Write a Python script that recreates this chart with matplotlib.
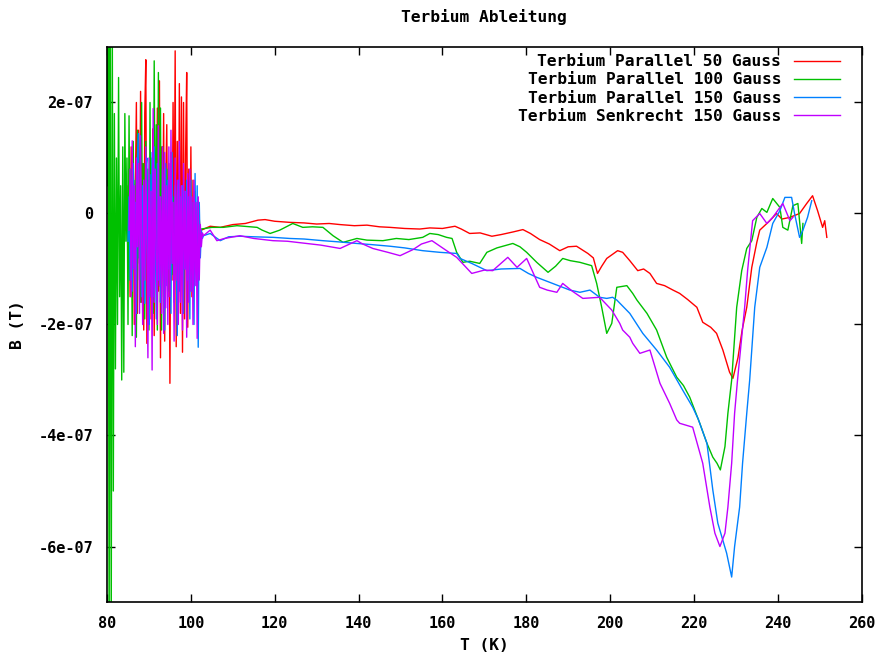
"""
Terbium Ableitung - derivative curves for four field settings
"""

import matplotlib
matplotlib.use('Agg')
import matplotlib.pyplot as plt

# temperature (K) and B in units of 1e-7 T
# 50 Gauss parallel
red_t = [84.5, 84.75, 85.0, 85.25, 85.5, 85.75, 86.0, 86.25, 86.5, 86.75, 87.0, 87.25,
         87.5, 87.75, 88.0, 88.25, 88.5, 88.75, 89.0, 89.25, 89.5, 89.75, 90.0, 90.25,
         90.5, 90.75, 91.0, 91.25, 91.5, 91.75, 92.0, 92.25, 92.5, 92.75, 93.0, 93.25,
         93.5, 93.75, 94.0, 94.25, 94.5, 94.75, 95.0, 95.25, 95.5, 95.75, 96.0, 96.25,
         96.5, 96.75, 97.0, 97.25, 97.5, 97.75, 98.0, 98.25, 98.5, 98.75, 99.0, 99.25,
         99.5, 99.75, 100.0, 100.25, 100.5, 100.75, 101.0, 101.25, 101.5, 101.75,
         102.0, 102.25,
         102.5, 104.6, 107, 110, 113, 116, 117.7, 120, 123.6, 127, 130, 133,
         135.6, 139, 142, 145, 147.5, 151, 154.6, 157, 160, 163, 164.5, 166.5,
         169, 171.8, 174, 177, 179.2, 181, 183.2, 185.5, 188, 190, 192, 194.7,
         196, 197, 198, 199.2, 201.8, 203, 204.7, 206.6, 208, 209.5, 211.1, 213,
         215, 216.6, 218.5, 220.7, 222.1, 224, 225.4, 226.9, 228.5, 229.3, 230.5,
         231.5, 232.6, 233.8, 235, 235.7, 238.1, 239.7, 241, 242.9, 245.2, 246.9,
         248.3, 249.5, 250.7, 251.2, 251.7]
red_b = [-0.3, 0.5, -1.0, 0.8, -1.5, 1.2, -0.6, 1.0, -2.0, 0.4, 2.0, -1.8,
         1.5, -0.9, 2.2, -1.6, 0.9, -2.1, 1.8, 2.77, -2.34, 0.6, -1.2, 1.0,
         -1.9, 0.4, 1.53, -2.2, 0.7, -1.0, 1.9, -1.4, 2.39, -2.6, 1.2, -0.8,
         1.8, -2.3, 0.5, 1.6, -1.5, 0.9, -3.06, 1.1, -1.2, 2.0, -0.7, 2.93,
         -2.4, 1.3, -1.6, 2.34, -1.8, 2.1, -2.5, 2.0, -1.9, 1.1, 2.54, -2.05,
         0.8, -1.4, 1.2, -1.5, 0.6, -1.2, 0.4, -0.9, 0.1, -0.6,
         -0.1, -0.35,
         -0.3, -0.23, -0.25, -0.2, -0.18, -0.12, -0.11, -0.14, -0.16, -0.17, -0.19, -0.18,
         -0.2, -0.22, -0.21, -0.24, -0.25, -0.27, -0.28, -0.26, -0.27, -0.23, -0.28, -0.36,
         -0.35, -0.41, -0.38, -0.33, -0.29, -0.36, -0.47, -0.55, -0.67, -0.6, -0.59, -0.72,
         -0.8, -1.08, -0.95, -0.81, -0.67, -0.7, -0.85, -1.03, -1.0, -1.08, -1.26, -1.3,
         -1.38, -1.44, -1.55, -1.69, -1.96, -2.05, -2.16, -2.46, -2.86, -2.97, -2.6,
         -2.1, -1.69, -0.97, -0.52, -0.3, -0.13, 0.0, -0.1, -0.07, 0.0, 0.18,
         0.32, 0.05, -0.25, -0.13, -0.43]

# 100 Gauss parallel
green_t = [80.0, 80.25, 80.5, 80.75, 81.0, 81.25, 81.5, 81.75, 82.0, 82.25, 82.5, 82.75,
           83.0, 83.25, 83.5, 83.75, 84.0, 84.25, 84.5, 84.75, 85.0, 85.25, 85.5, 85.75,
           86.0, 86.25, 86.5, 86.75, 87.0, 87.25, 87.5, 87.75, 88.0, 88.25, 88.5, 88.75,
           89.0, 89.25, 89.5, 89.75, 90.0, 90.25, 90.5, 90.75, 91.0, 91.25, 91.5, 91.75,
           92.0, 92.25, 92.5, 92.75, 93.0, 93.25, 93.5, 93.75, 94.0, 94.25, 94.5, 94.75,
           95.0, 95.25, 95.5, 95.75, 96.0, 96.25, 96.5, 96.75, 97.0, 97.25, 97.5, 97.75,
           98.0, 98.25, 98.5, 98.75, 99.0, 99.25, 99.5, 99.75, 100.0, 100.25, 100.5,
           100.75, 101.0, 101.25, 101.5, 101.75, 102.0, 102.25,
           102.5, 105, 107.7, 111, 115.8, 117, 118.9, 121.2, 124.3, 126.7, 129,
           131.5, 133.9, 136.3, 139.6, 142, 145.8, 149, 152, 155.3, 157, 159, 161,
           162.3, 163.4, 164.9, 166.5, 168.9, 170.6, 173, 176.8, 178.5, 180.1,
           182.5, 185.2, 187, 188.7, 190.5, 192.8, 195.6, 196.8, 198, 199.2, 200.4,
           201.6, 204, 205.4, 206.4, 208.8, 211.1, 213.5, 215.9, 217.5, 219, 221.4,
           223.1, 224.5, 225.5, 226.3, 227.4, 228.1, 229, 230.2, 231.4, 232.6,
           233.8, 235, 236.2, 237.4, 238.8, 240.5, 241.2, 242.4, 243.6, 244.8,
           245.7, 246]
green_b = [0.5, 4.0, -8.0, 4.0, -7.5, 3.5, -5.0, 1.8, -2.8, 1.0, -2.0, 2.45,
           -1.5, 0.5, -3.0, 1.2, -2.86, 1.8, -0.5, 1.0, -2.0, 1.76, -1.2, 0.8,
           -2.2, 1.3, -1.0, 0.6, -2.23, 1.5, -0.8, 0.4, -1.6, 2.0, -1.2, 0.9,
           -1.9, 1.3, -0.4, 0.8, -2.1, 2.0, -1.5, 1.0, -1.8, 2.75, -0.9, 1.6,
           -2.1, 2.54, -1.3, 1.9, -2.1, 1.2, -1.5, 0.9, -1.2, 0.8, -1.4, 0.5,
           -0.9, 0.6, -1.1, 0.3, -1.0, 0.4, -0.7, 0.5, -1.0, 0.2, -0.6, 0.3,
           -0.7, 0.2, -0.5, 0.1, -0.6, 0.0, -0.5, -0.1, -0.4, -0.1, -0.4,
           -0.2, -0.35, -0.2, -0.3, -0.25, -0.3, -0.28,
           -0.28, -0.25, -0.25, -0.22, -0.25, -0.3, -0.36, -0.3, -0.18, -0.25, -0.24,
           -0.25, -0.4, -0.52, -0.45, -0.48, -0.49, -0.45, -0.47, -0.43, -0.36, -0.38, -0.43,
           -0.45, -0.7, -0.88, -0.86, -0.9, -0.7, -0.62, -0.54, -0.6, -0.7,
           -0.88, -1.06, -0.95, -0.81, -0.85, -0.88, -0.94, -1.26, -1.69, -2.16, -1.98,
           -1.33, -1.3, -1.44, -1.56, -1.8, -2.1, -2.59, -2.95, -3.1, -3.31, -3.78,
           -4.14, -4.39, -4.5, -4.62, -4.2, -3.6, -3.0, -1.69, -1.03, -0.63,
           -0.49, -0.07, 0.09, 0.02, 0.27, 0.11, -0.25, -0.3, 0.14, 0.18,
           -0.54, -0.18]

# 150 Gauss parallel
blue_t = [85.0, 85.25, 85.5, 85.75, 86.0, 86.25, 86.5, 86.75, 87.0, 87.25, 87.5, 87.75,
          88.0, 88.25, 88.5, 88.75, 89.0, 89.25, 89.5, 89.75, 90.0, 90.25, 90.5, 90.75,
          91.0, 91.25, 91.5, 91.75, 92.0, 92.25, 92.5, 92.75, 93.0, 93.25, 93.5, 93.75,
          94.0, 94.25, 94.5, 94.75, 95.0, 95.25, 95.5, 95.75, 96.0, 96.25, 96.5, 96.75,
          97.0, 97.25, 97.5, 97.75, 98.0, 98.25, 98.5, 98.75, 99.0, 99.25, 99.5, 99.75,
          100.0, 100.25, 100.5, 100.75, 101.0, 101.25, 101.5, 101.75, 102.0, 102.25,
          102.5, 102.75,
          103, 104.6, 107, 109, 111.7, 115, 119.6, 123.6, 127, 131.5, 135, 139.6,
          143, 147.5, 151, 155.3, 159.4, 163.4, 164.2, 167, 170.6, 174, 178.5,
          180.5, 182.5, 186.3, 190.4, 192.8, 195.2, 197.5, 199.2, 200.6, 201.6,
          204.7, 207.8, 211.1, 214.2, 217.3, 219.7, 221, 223.1, 224.5, 225.7,
          227.8, 229, 229.7, 230.9, 231.6, 232.6, 233.3, 234.5, 235.7, 237.4,
          238.8, 240.5, 241.7, 243.3, 244, 245.2, 246, 247.1, 248.1]
blue_b = [-0.5, 0.3, -1.2, 0.6, -1.4, 0.9, -1.0, 0.2, -1.8, 1.0, 1.44, -1.2,
          0.4, -1.5, 0.5, -0.8, -1.62, 0.8, 1.0, -1.7, -2.0, 0.7, -0.6, 1.1,
          -1.5, 1.2, -0.4, -1.9, 0.9, -1.2, 0.3, -1.6, -1.0, 0.8, -0.3, -2.1,
          0.9, -1.3, 0.6, -1.0, 0.2, -1.8, 1.1, -0.6, -1.6, 0.5, -0.9, -2.2,
          0.6, -1.4, 0.3, -1.1, 0.5, -1.8, 0.4, -1.0, 0.6, -1.2, 0.3, -1.9,
          0.6, -1.4, 0.2, -2.0, 0.72, -1.3, 0.5, -2.41, 0.2, -0.8,
          -0.3, -0.45,
          -0.4, -0.36, -0.49, -0.42, -0.41, -0.42, -0.43, -0.45, -0.46, -0.49, -0.51, -0.54,
          -0.56, -0.59, -0.62, -0.67, -0.7, -0.72, -0.81, -0.9, -1.03, -1.0, -0.99,
          -1.08, -1.15, -1.26, -1.38, -1.42, -1.38, -1.51, -1.53, -1.51, -1.56,
          -1.8, -2.16, -2.46, -2.77, -3.18, -3.49, -3.7, -4.14, -4.98, -5.58,
          -6.12, -6.55, -6.0, -5.29, -4.5, -3.6, -3.0, -1.69, -0.97, -0.61,
          -0.18, 0.05, 0.29, 0.29, 0.0, -0.43, -0.3, -0.07, 0.23]

# 150 Gauss senkrecht
mag_t = [85.25, 85.5, 85.75, 86.0, 86.25, 86.5, 86.75, 87.0, 87.25, 87.5, 87.75, 88.0,
         88.25, 88.5, 88.75, 89.0, 89.25, 89.5, 89.75, 90.0, 90.25, 90.5, 90.75, 91.0,
         91.25, 91.5, 91.75, 92.0, 92.25, 92.5, 92.75, 93.0, 93.25, 93.5, 93.75, 94.0,
         94.25, 94.5, 94.75, 95.0, 95.25, 95.5, 95.75, 96.0, 96.25, 96.5, 96.75, 97.0,
         97.25, 97.5, 97.75, 98.0, 98.25, 98.5, 98.75, 99.0, 99.25, 99.5, 99.75, 100.0,
         100.25, 100.5, 100.75, 101.0, 101.25, 101.5, 101.75, 102.0, 102.25, 102.5,
         102.75, 103.0,
         104.6, 106.2, 108, 111.7, 115, 119.6, 123, 127.7, 131, 135.6, 139.6,
         141, 143.4, 147, 149.9, 153, 155, 157.5, 161, 163.4, 167, 170, 172,
         175.6, 177.8, 180.1, 183.2, 185, 187.3, 188.7, 191, 193.5, 197.5, 200.4,
         202.3, 203, 204.7, 205.4, 207.1, 209.5, 211.9, 214.2, 215.9, 216.6,
         219.7, 222.1, 223.8, 225, 226.2, 227.4, 228.1, 229, 229.7, 230.4, 232.1,
         232.8, 234, 235.7, 237.4, 238.8, 241.2, 242.9, 243.6]
mag_b = [-0.3, 0.8, -1.5, 1.31, -1.0, 0.5, -2.4, 1.0, -0.6, 0.9, -1.8, 1.4,
         -0.5, -2.0, 0.6, -1.2, 1.2, -0.8, -2.6, 1.0, -1.5, 0.4, -2.82, 1.89,
         -1.6, 0.8, -0.7, -2.0, 1.58, -1.3, 0.3, -1.8, 1.2, -2.16, 1.1, -1.7,
         0.5, -2.0, 1.2, -1.5, 1.5, -0.9, 0.2, -2.3, 1.0, -1.2, 0.6, -2.0,
         1.3, -1.6, 0.5, -2.1, 0.9, -1.0, 0.4, -2.23, 0.72, -1.6, 0.8, -1.4,
         0.3, -2.0, 0.6, -1.3, 0.2, -2.25, 0.3, -1.2, -0.2, -0.6,
         -0.35, -0.4,
         -0.3, -0.49, -0.45, -0.4, -0.45, -0.49, -0.5, -0.54, -0.57, -0.63, -0.49,
         -0.55, -0.63, -0.7, -0.76, -0.65, -0.55, -0.49, -0.67, -0.79, -1.08, -1.02, -1.03,
         -0.79, -0.97, -0.81, -1.33, -1.38, -1.42, -1.26, -1.4, -1.53, -1.51, -1.74,
         -1.98, -2.1, -2.23, -2.34, -2.52, -2.46, -3.06, -3.42, -3.72, -3.78,
         -3.85, -4.5, -5.29, -5.76, -6.0, -5.76, -5.29, -4.5, -3.6, -3.0, -1.69,
         -1.03, -0.13, 0.0, -0.18, -0.07, 0.18, -0.13, -0.07]

labels = ['Terbium Parallel 50 Gauss', 'Terbium Parallel 100 Gauss',
          'Terbium Parallel 150 Gauss', 'Terbium Senkrecht 150 Gauss']
colors = ['#ff0000', '#00c000', '#0080ff', '#c000ff']

y_ticks = [-6, -4, -2, 0, 2]
y_tick_labels = ['-6e-07', '-4e-07', '-2e-07', '0', '2e-07']
x_ticks = [80, 100, 120, 140, 160, 180, 200, 220, 240, 260]

font = {'family': 'DejaVu Sans Mono', 'weight': 'bold', 'size': 11.7}
tick_font = {'family': 'DejaVu Sans Mono', 'weight': 'bold', 'size': 11}

fig = plt.figure(figsize=(8.81, 6.57), dpi=100)
ax = fig.add_axes([0.1215, 0.0837, 0.8565, 0.8448])

series = [(red_t, red_b), (green_t, green_b), (blue_t, blue_b), (mag_t, mag_b)]
for (t, b), lab, col in zip(series, labels, colors):
    ax.plot(t, b, color=col, linewidth=1, label=lab)

ax.set_xlim(80, 260)
ax.set_ylim(-7, 3)
ax.set_xticks(x_ticks)
ax.set_xticklabels([str(v) for v in x_ticks], fontdict=tick_font)
ax.set_yticks(y_ticks)
ax.set_yticklabels(y_tick_labels, fontdict=tick_font)
ax.tick_params(direction='in', length=6, width=1, top=True, right=True, pad=10)

for sp in ax.spines.values():
    sp.set_linewidth(1.2)

ax.set_title('Terbium Ableitung', fontdict=font, pad=18)
ax.set_xlabel('T (K)', fontdict=font, labelpad=5)
ax.set_ylabel('B (T)', fontdict=font, labelpad=10)

# legend text right aligned, sample line on the right like gnuplot
leg = ax.legend(loc='upper right', bbox_to_anchor=(0.971, 0.987), frameon=False,
                markerfirst=False, handlelength=2.8, handletextpad=0.8,
                labelspacing=0.2, borderaxespad=0, borderpad=0,
                prop={'family': 'DejaVu Sans Mono', 'weight': 'bold', 'size': 11.7})

fig.savefig('out.png', dpi=100)
